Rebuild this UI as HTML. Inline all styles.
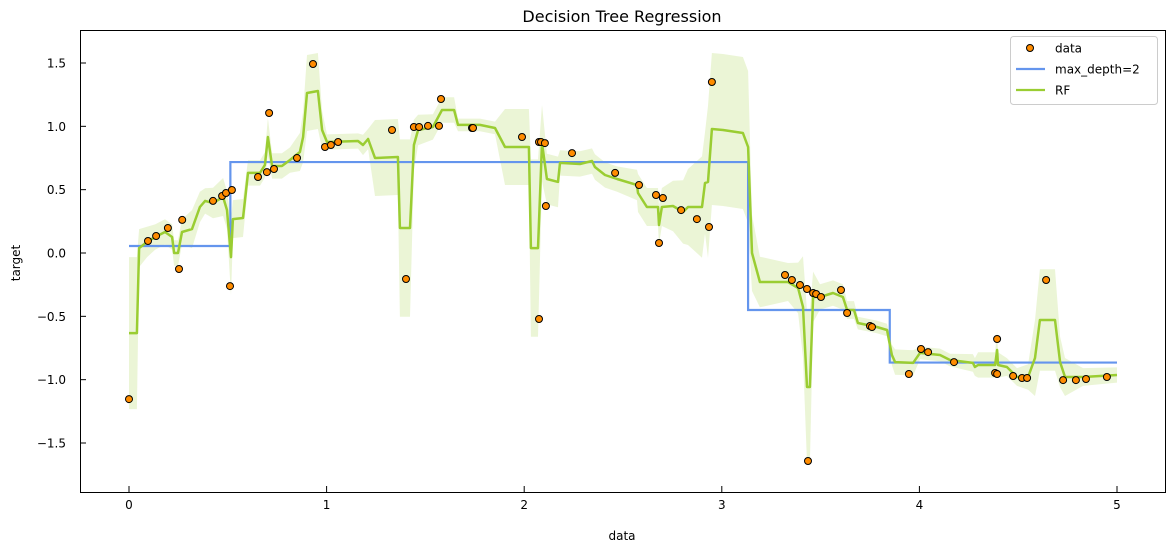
<!DOCTYPE html>
<html><head><meta charset="utf-8"><style>
body{margin:0;background:#fff}
svg{display:block;font-family:"DejaVu Sans","Liberation Sans",sans-serif}
</style></head><body>
<svg id="chart" width="1174" height="552" viewBox="0 0 1174 552" xmlns="http://www.w3.org/2000/svg">
<rect x="0" y="0" width="1174" height="552" fill="#fff"/>
<text x="622" y="22" text-anchor="middle" font-size="16">Decision Tree Regression</text>
<g id="plot"></g>
<text x="622" y="540" text-anchor="middle" font-size="12">data</text>
<text x="20" y="263" text-anchor="middle" font-size="12" transform="rotate(-90 20 263)">target</text>
<g>
<rect x="1010.5" y="36.5" width="147" height="68" rx="3" fill="#fff" fill-opacity="0.8" stroke="#ccc"/>
<circle cx="1030" cy="48" r="3.5" fill="darkorange" stroke="#000" stroke-width="1"/>
<text x="1055" y="52.5" font-size="12">data</text>
<line x1="1016" y1="69" x2="1045" y2="69" stroke="cornflowerblue" stroke-width="2.2"/>
<text x="1055" y="73.5" font-size="12">max_depth=2</text>
<line x1="1016" y1="90" x2="1045" y2="90" stroke="yellowgreen" stroke-width="2.2"/>
<text x="1055" y="94.5" font-size="12">RF</text>
</g>
</svg>
<script>
const dataX=[0.000,0.096,0.137,0.197,0.253,0.269,0.425,0.471,0.491,0.521,0.511,0.653,0.698,0.709,0.734,0.850,0.931,0.992,1.022,1.058,1.331,1.402,1.442,1.468,1.513,1.569,1.579,1.736,1.741,1.989,2.075,2.085,2.105,2.110,2.075,2.242,2.460,2.581,2.667,2.702,2.682,2.794,2.874,2.935,2.950,3.320,3.355,3.396,3.431,3.462,3.477,3.502,3.436,3.603,3.634,3.750,3.760,3.947,4.008,4.044,4.175,4.393,4.383,4.393,4.474,4.519,4.545,4.641,4.727,4.792,4.843,4.949];
const dataY=[-1.153,0.095,0.134,0.197,-0.126,0.261,0.411,0.450,0.474,0.497,-0.261,0.600,0.639,1.105,0.663,0.750,1.492,0.837,0.853,0.876,0.971,-0.205,0.995,0.995,1.003,1.003,1.216,0.987,0.987,0.916,0.876,0.876,0.868,0.371,-0.521,0.789,0.632,0.537,0.458,0.434,0.079,0.339,0.268,0.205,1.350,-0.174,-0.213,-0.253,-0.284,-0.316,-0.324,-0.347,-1.642,-0.292,-0.474,-0.576,-0.584,-0.955,-0.758,-0.782,-0.861,-0.679,-0.947,-0.955,-0.971,-0.987,-0.987,-0.213,-1.003,-1.003,-0.995,-0.979];
const treeSplits=[0,0.513,3.133,3.85,5];
const treeValues=[0.055,0.718,-0.45,-0.865];
const rfX=[0.000,0.040,0.051,0.091,0.132,0.182,0.218,0.228,0.248,0.268,0.319,0.359,0.385,0.425,0.476,0.496,0.516,0.526,0.577,0.602,0.663,0.688,0.703,0.724,0.774,0.815,0.865,0.881,0.901,0.956,0.977,1.002,1.159,1.184,1.210,1.245,1.361,1.371,1.422,1.442,1.463,1.538,1.584,1.645,1.665,1.776,1.852,1.903,2.024,2.034,2.070,2.090,2.115,2.171,2.181,2.282,2.343,2.358,2.409,2.470,2.571,2.576,2.621,2.677,2.682,2.697,2.753,2.804,2.829,2.900,2.915,2.930,2.950,3.006,3.107,3.133,3.153,3.193,3.335,3.386,3.411,3.431,3.446,3.462,3.497,3.563,3.613,3.634,3.669,3.689,3.785,3.836,3.861,3.877,3.968,4.003,4.104,4.155,4.271,4.281,4.297,4.383,4.393,4.398,4.443,4.494,4.550,4.585,4.610,4.686,4.712,4.737,4.828,5.000];
const rfY=[-0.632,-0.632,0.039,0.087,0.126,0.166,0.126,0.0,0.0,0.166,0.189,0.363,0.411,0.395,0.442,0.339,-0.032,0.268,0.276,0.632,0.632,0.695,0.916,0.687,0.687,0.734,0.797,0.916,1.263,1.279,0.971,0.876,0.884,0.853,0.9,0.75,0.758,0.197,0.197,0.853,0.971,0.995,1.129,1.129,1.011,1.011,0.987,0.837,0.837,0.039,0.039,0.868,0.584,0.561,0.711,0.703,0.726,0.679,0.616,0.584,0.537,0.474,0.363,0.363,0.221,0.363,0.371,0.324,0.363,0.363,0.553,0.561,0.979,0.971,0.947,0.837,0.0,-0.229,-0.229,-0.276,-0.426,-1.058,-1.058,-0.347,-0.347,-0.316,-0.347,-0.45,-0.45,-0.553,-0.584,-0.608,-0.805,-0.861,-0.868,-0.789,-0.805,-0.845,-0.868,-0.9,-0.884,-0.884,-0.766,-0.884,-0.9,-0.979,-0.979,-0.829,-0.529,-0.529,-0.861,-0.979,-0.979,-0.963];
const rfSpread=[0.6,0.6,0.15,0.12,0.1,0.1,0.1,0.1,0.1,0.1,0.15,0.12,0.1,0.12,0.15,0.15,0.3,0.15,0.15,0.1,0.1,0.1,0.15,0.1,0.1,0.1,0.15,0.2,0.3,0.3,0.15,0.06,0.06,0.08,0.08,0.3,0.3,0.7,0.7,0.2,0.12,0.1,0.1,0.1,0.05,0.05,0.05,0.3,0.3,0.7,0.7,0.3,0.2,0.2,0.1,0.1,0.1,0.1,0.1,0.1,0.12,0.15,0.15,0.15,0.15,0.15,0.2,0.25,0.3,0.4,0.4,0.6,0.6,0.6,0.6,0.6,0.3,0.2,0.15,0.2,0.4,0.6,0.6,0.2,0.1,0.1,0.1,0.07,0.07,0.05,0.05,0.05,0.08,0.1,0.1,0.05,0.05,0.05,0.07,0.07,0.1,0.1,0.15,0.1,0.07,0.07,0.1,0.3,0.4,0.4,0.2,0.15,0.07,0.06];
const xTicks=[0,1,2,3,4,5];
const yTicks=[-1.5,-1.0,-0.5,0.0,0.5,1.0,1.5];

const L=80,R=1165,T=30,B=492;
function sx(v){return 129+v*197.6;}
function sy(v){return 253-v*126.67;}
const NS="http://www.w3.org/2000/svg";
const g=document.getElementById('plot');
function mk(tag,attrs){const e=document.createElementNS(NS,tag);for(const k in attrs)e.setAttribute(k,attrs[k]);g.appendChild(e);return e;}

let up=rfX.map((x,i)=>sx(x).toFixed(1)+','+sy(rfY[i]+rfSpread[i]).toFixed(1));
let dn=rfX.map((x,i)=>sx(x).toFixed(1)+','+sy(rfY[i]-rfSpread[i]).toFixed(1)).reverse();
const band=mk('polygon',{points:up.concat(dn).join(' '),fill:'yellowgreen','fill-opacity':'0.2',stroke:'none'});



let tp=[];
for(let i=0;i<treeValues.length;i++){tp.push(sx(treeSplits[i])+','+sy(treeValues[i]));tp.push(sx(treeSplits[i+1])+','+sy(treeValues[i]));}
const tl=mk('polyline',{points:tp.join(' '),fill:'none',stroke:'cornflowerblue','stroke-width':'2.2'});



const rl=mk('polyline',{points:rfX.map((x,i)=>sx(x).toFixed(1)+','+sy(rfY[i]).toFixed(1)).join(' '),fill:'none',stroke:'yellowgreen','stroke-width':'2.5','stroke-linejoin':'round'});



dataX.forEach((x,i)=>{
  const c=mk('circle',{cx:sx(x).toFixed(1),cy:sy(dataY[i]).toFixed(1),r:'3.5',fill:'darkorange',stroke:'#000','stroke-width':'1'});
  
  
});

const fr=mk('rect',{x:L+0.5,y:T+0.5,width:R-L,height:B-T,fill:'none',stroke:'#000','stroke-width':'1'});



xTicks.forEach(v=>{
  const x=sx(v);
  const t=mk('line',{x1:x,y1:B,x2:x,y2:B-6,stroke:'#000'});
  
  
  const lb=mk('text',{x:x,y:B+17,'text-anchor':'middle','font-size':'12'});
  lb.textContent=String(v);
  
  
});
yTicks.forEach(v=>{
  const y=sy(v);
  const t=mk('line',{x1:L,y1:y,x2:L+6,y2:y,stroke:'#000'});
  
  
  const lb=mk('text',{x:L-14,y:y+4.5,'text-anchor':'end','font-size':'12'});
  lb.textContent=v.toFixed(1).replace('-','\u2212');
  
  
});
</script>
</body></html>
